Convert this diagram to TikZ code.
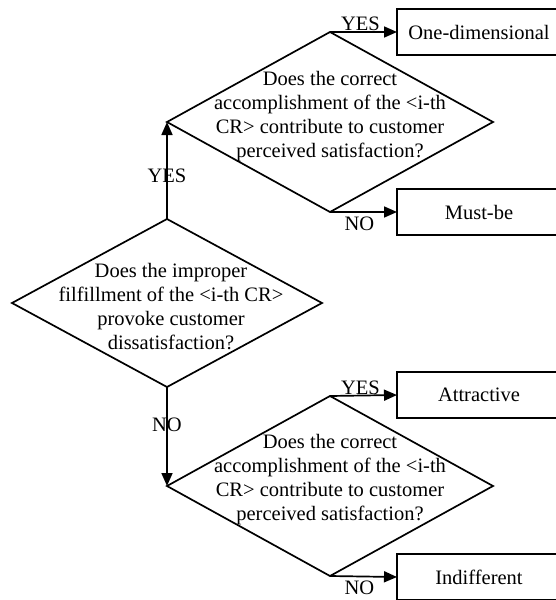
\documentclass[tikz,border=0pt]{standalone}
\usepackage{fontspec}
\setmainfont{Liberation Serif}
\usetikzlibrary{shapes.geometric,arrows.meta}

\tikzset{
  decision/.style={diamond,draw,line width=1.7pt,inner sep=0pt,outer sep=0pt,
    minimum width=326pt,minimum height=180pt},
  outcome/.style={rectangle,draw,line width=1.7pt,inner sep=0pt,outer sep=0pt,
    minimum width=164pt,minimum height=46pt},
  flow/.style={-{Triangle[length=13pt,width=11pt]},line width=1.7pt},
  qtext/.style={align=center,inner sep=0pt}
}

\begin{document}
\begin{tikzpicture}[x=1pt,y=-1pt,font=\fontsize{20.5}{24}\selectfont]
\path[use as bounding box] (0,0) rectangle (556,600);
\clip (0,0) rectangle (556,600);

% questions
\node[decision,minimum width=310pt,minimum height=168pt,
  label={[qtext,xshift=4pt,yshift=-4pt]center:Does the improper\\filfillment of the <i-th CR>\\provoke customer\\dissatisfaction?}]
  (improper) at (167,303) {};
\node[decision,
  label={[qtext,yshift=5pt]center:Does the correct\\accomplishment of the <i-th\\CR> contribute to customer\\perceived satisfaction?}]
  (correctA) at (330,122) {};
\node[decision,
  label={[qtext,yshift=6pt]center:Does the correct\\accomplishment of the <i-th\\CR> contribute to customer\\perceived satisfaction?}]
  (correctB) at (330,486) {};

% categories
\node[outcome] (onedim) at (479,32) {One-dimensional};
\node[outcome] (mustbe) at (479,212) {Must-be};
\node[outcome] (attract) at (479,395) {Attractive};
\node[outcome] (indiff) at (479,577) {Indifferent};

% connectors
\draw[flow] (improper.north) -- node[pos=0.45,inner sep=0pt] {YES} (correctA.west);
\draw[flow] (improper.south) -- node[pos=0.38,inner sep=0pt] {NO} (correctB.west);
\draw[flow] (correctA.north) -- node[above,inner sep=0pt,xshift=-3pt] {YES} (onedim.west);
\draw[flow] (correctA.south) -- node[below,inner sep=4pt,xshift=-4pt] {NO} (mustbe.west);
\draw[flow] (correctB.north) -- node[above,inner sep=0pt,xshift=-3pt] {YES} (attract.west);
\draw[flow] (correctB.south) -- node[below,inner sep=4pt,xshift=-4pt] {NO} (indiff.west);
\end{tikzpicture}
\end{document}
